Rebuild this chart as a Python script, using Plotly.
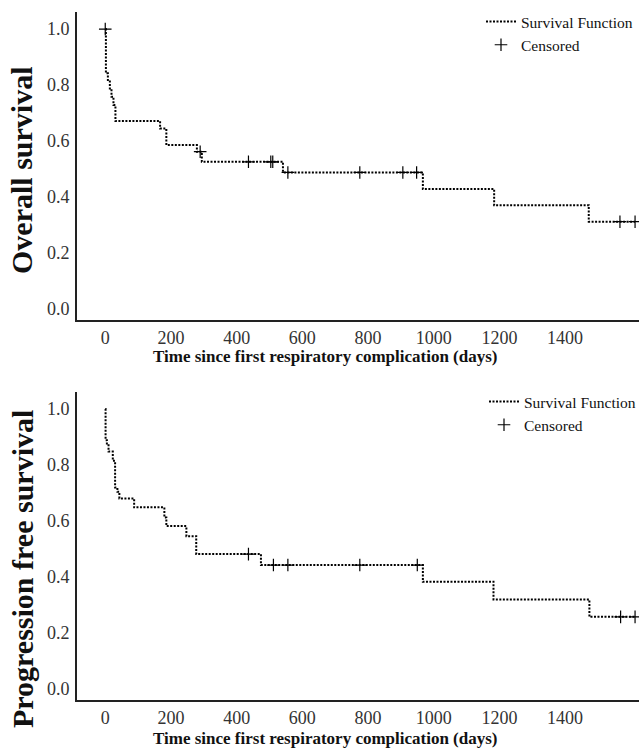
import plotly.graph_objects as go

# Overall survival (Kaplan-Meier step points: time in days, survival after step)
os_times = [0, 2, 8, 14, 19, 25, 31, 167, 186, 279, 294, 541, 967, 1184, 1472, 1613]
os_surv = [1.0, 0.842, 0.818, 0.788, 0.758, 0.729, 0.672, 0.645, 0.586, 0.562, 0.526,
           0.488, 0.429, 0.371, 0.312, 0.312]
os_cens_times = [0, 289, 436, 504, 510, 556, 775, 906, 948, 1567, 1613]

# Progression free survival
pfs_times = [0, 1, 5, 10, 23, 30, 37, 43, 88, 180, 186, 247, 277, 474, 967, 1182, 1474, 1613]
pfs_surv = [1.0, 0.889, 0.877, 0.848, 0.815, 0.720, 0.705, 0.681, 0.649, 0.613, 0.582,
            0.546, 0.482, 0.443, 0.383, 0.320, 0.258, 0.258]
pfs_cens_times = [436, 512, 556, 775, 950, 1569, 1613]

x_ticks = [0, 200, 400, 600, 800, 1000, 1200, 1400]
y_ticks = [0.0, 0.2, 0.4, 0.6, 0.8, 1.0]

x_title = "Time since first respiratory complication (days)"
y_title_top = "Overall survival"
y_title_bottom = "Progression free survival"

FONT = "Liberation Serif"


def step_lookup(times, surv, t):
    val = surv[0]
    for ti, si in zip(times, surv):
        if ti <= t:
            val = si
    return val


fig = go.Figure()

line_style = dict(color="black", width=2, dash="2px,1.5px", shape="hv")
marker_style = dict(symbol="cross-thin", size=9, color="black",
                    line=dict(color="black", width=1.2))

# Top panel
fig.add_trace(go.Scatter(x=os_times, y=os_surv, mode="lines", line=line_style,
                         name="Survival Function", xaxis="x", yaxis="y",
                         legend="legend"))
fig.add_trace(go.Scatter(x=os_cens_times,
                         y=[step_lookup(os_times, os_surv, t) for t in os_cens_times],
                         mode="markers", marker=marker_style, name="Censored",
                         xaxis="x", yaxis="y", legend="legend"))
# Bottom panel
fig.add_trace(go.Scatter(x=pfs_times, y=pfs_surv, mode="lines", line=line_style,
                         name="Survival Function", xaxis="x2", yaxis="y2",
                         legend="legend2"))
fig.add_trace(go.Scatter(x=pfs_cens_times,
                         y=[step_lookup(pfs_times, pfs_surv, t) for t in pfs_cens_times],
                         mode="markers", marker=marker_style, name="Censored",
                         xaxis="x2", yaxis="y2", legend="legend2"))

W, H = 639, 749
ML = 77
PW = W - ML


def px_x(p):
    return (p - ML) / PW


def px_y(p):
    return (H - p) / H


xaxis_common = dict(range=[-86, 1625], tickvals=x_ticks, showgrid=False, zeroline=False,
                    showline=True, linecolor="#222", linewidth=2, ticks="",
                    ticklabelstandoff=0,
                    tickfont=dict(family=FONT, size=18, color="#333"))
yaxis_common = dict(range=[-0.039, 1.062], tickvals=y_ticks, tickformat=".1f",
                    showgrid=False, zeroline=False, showline=True, linecolor="#222",
                    linewidth=2, ticks="", ticklabelstandoff=2,
                    tickfont=dict(family=FONT, size=18, color="#333"))

legend_common = dict(font=dict(family=FONT, size=15.5, color="#111"),
                     bgcolor="rgba(0,0,0,0)", xanchor="left", yanchor="top",
                     tracegroupgap=0, itemwidth=30)

fig.update_layout(
    width=W, height=H,
    margin=dict(l=ML, r=0, t=0, b=0, autoexpand=False),
    paper_bgcolor="white", plot_bgcolor="white",
    xaxis=dict(domain=[0, 1], anchor="y", **xaxis_common),
    yaxis=dict(domain=[px_y(320), px_y(11.7)], anchor="x", **yaxis_common),
    xaxis2=dict(domain=[0, 1], anchor="y2", **xaxis_common),
    yaxis2=dict(domain=[px_y(700), px_y(391.7)], anchor="x2", **yaxis_common),
    legend=dict(x=px_x(481), y=px_y(5), **legend_common),
    legend2=dict(x=px_x(484), y=px_y(385), **legend_common),
    showlegend=True,
)

annotations = [
    dict(text="<b>%s</b>" % x_title, x=px_x(325), y=px_y(356), xref="paper", yref="paper",
         xanchor="center", yanchor="middle", showarrow=False,
         font=dict(family=FONT, size=17, color="#111")),
    dict(text="<b>%s</b>" % x_title, x=px_x(325), y=px_y(738), xref="paper", yref="paper",
         xanchor="center", yanchor="middle", showarrow=False,
         font=dict(family=FONT, size=17, color="#111")),
    dict(text="<b>%s</b>" % y_title_top, x=px_x(22), y=px_y(171), xref="paper", yref="paper",
         xanchor="center", yanchor="middle", showarrow=False, textangle=-90,
         font=dict(family=FONT, size=30, color="#111")),
    dict(text="<b>%s</b>" % y_title_bottom, x=px_x(22), y=px_y(569), xref="paper",
         yref="paper", xanchor="center", yanchor="middle", showarrow=False, textangle=-90,
         font=dict(family=FONT, size=30, color="#111")),
]
fig.update_layout(annotations=annotations)

fig.write_html("out.html",
               config={"displayModeBar": False},
               post_script="document.body.style.margin='0px';"
                           "document.body.style.overflow='hidden';")
